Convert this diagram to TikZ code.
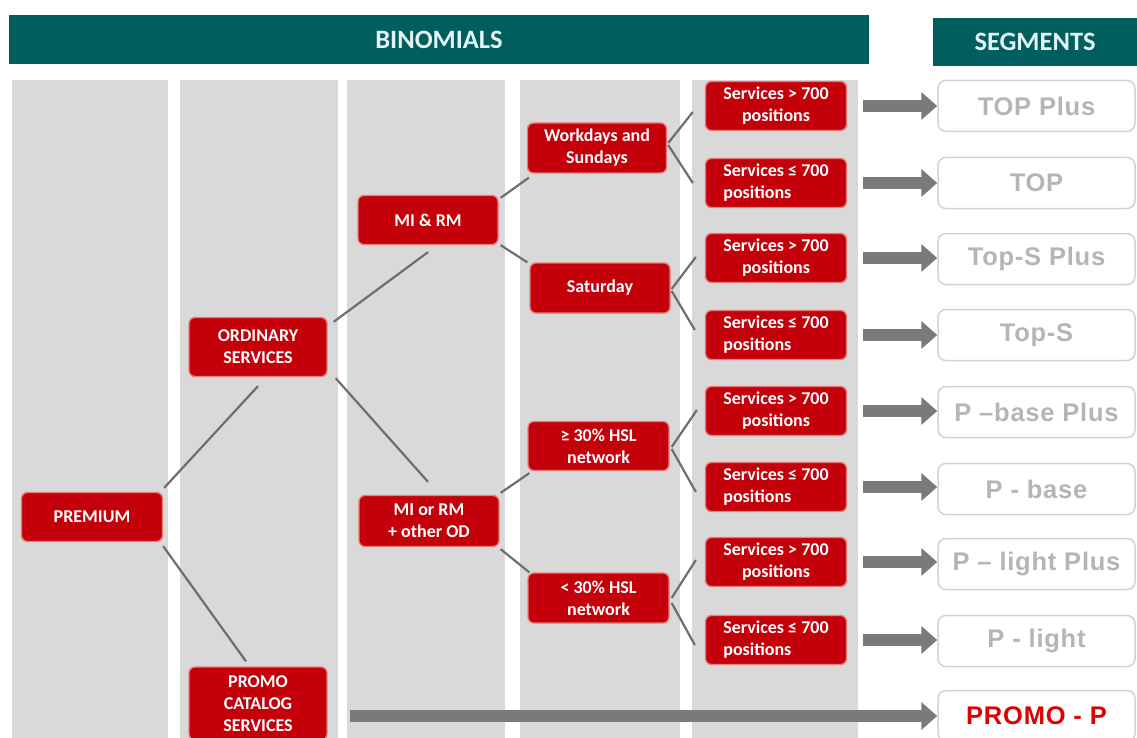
\documentclass[tikz,border=0pt]{standalone}
\usepackage{fontspec}
\setmainfont{Carlito}
\newfontfamily\segfont[LetterSpace=3]{Liberation Sans}
\usetikzlibrary{arrows.meta}

\definecolor{headteal}{HTML}{005E5E}
\definecolor{headtext}{HTML}{E4F4F4}
\definecolor{colgray}{HTML}{D9D9D9}
\definecolor{boxred}{HTML}{C4000A}
\definecolor{boxedge}{HTML}{E97A7A}
\definecolor{linkgray}{HTML}{6E6E6E}
\definecolor{arrowgray}{HTML}{7A7A7A}
\definecolor{segedge}{HTML}{D2D2D2}
\definecolor{segtext}{HTML}{B5B5B5}
\definecolor{promored}{HTML}{E00000}

\begin{document}
\begin{tikzpicture}[x=1pt,y=-1pt,
  redbox/.style={rectangle, rounded corners=6pt, fill=boxred, draw=boxedge,
    line width=1.3pt, text=white, font=\bfseries\fontsize{18}{22}\selectfont,
    align=center, minimum width=140pt, minimum height=49pt, inner sep=2pt},
  segbox/.style={rectangle, rounded corners=8pt, fill=white, draw=segedge,
    line width=1.5pt, text=segtext, font=\segfont\bfseries\fontsize{25.5}{28}\selectfont,
    minimum width=197pt, minimum height=51pt, inner sep=2pt},
  column/.style={fill=colgray},
  header/.style={rectangle, fill=headteal, text=headtext, inner sep=0pt,
    font=\bfseries\fontsize{26.5}{30}\selectfont},
  link/.style={draw=linkgray, line width=2.2pt},
  flow/.style={draw=arrowgray, line width=12pt, -{Triangle[length=16pt,width=27pt]}},
]
\useasboundingbox (0,0) rectangle (1137,738);
\clip (0,0) rectangle (1137,738);

% grey background columns
\fill[column] (12,80) rectangle (168,738);
\fill[column] (180,80) rectangle (338,738);
\fill[column] (347,80) rectangle (505,738);
\fill[column] (520,80) rectangle (680,738);
\fill[column] (692,80) rectangle (858,738);

% title bars
\node[header, minimum width=860pt, minimum height=49pt] (binom) at (439,39.5) {BINOMIALS};
\node[header, minimum width=204pt, minimum height=48pt] (segs) at (1035,42) {SEGMENTS};

% decision tree
\node[redbox, minimum width=141pt] (prem) at (92,517) {PREMIUM};
\node[redbox, minimum width=138pt, minimum height=59pt] (ord) at (258,347) {ORDINARY\\SERVICES};
\node[redbox, minimum width=138pt, minimum height=73pt] (promo) at (258,703.5) {PROMO\\CATALOG\\SERVICES};
\node[redbox] (mirm) at (428,220) {MI \& RM};
\node[redbox, minimum height=51pt] (mior) at (429,521) {MI or RM\\+ other OD};
\node[redbox, minimum width=139pt, minimum height=50pt] (work) at (597,148) {Workdays and\\Sundays};
\node[redbox, minimum height=50pt] (sat) at (600,288) {Saturday};
\node[redbox, minimum width=141pt] (hi) at (598.5,446) {≥ 30\% HSL\\network};
\node[redbox, minimum width=141pt, minimum height=50pt] (lo) at (598.5,598) {< 30\% HSL\\network};

% thresholds on positions
\node[redbox, minimum width=141pt] (s1) at (776,106) {Services > 700\\positions};
\node[redbox, minimum width=141pt, align=left] (s2) at (776,183) {Services ≤ 700\\positions};
\node[redbox, minimum width=141pt] (s3) at (776,258) {Services > 700\\positions};
\node[redbox, minimum width=141pt, align=left] (s4) at (776,335) {Services ≤ 700\\positions};
\node[redbox, minimum width=141pt] (s5) at (776,411) {Services > 700\\positions};
\node[redbox, minimum width=141pt, align=left] (s6) at (776,487) {Services ≤ 700\\positions};
\node[redbox, minimum width=141pt] (s7) at (776,562) {Services > 700\\positions};
\node[redbox, minimum width=141pt, align=left] (s8) at (776,640) {Services ≤ 700\\positions};

% resulting segments
\node[segbox] (g1) at (1036.5,106) {TOP Plus};
\node[segbox] (g2) at (1036.5,183) {TOP};
\node[segbox] (g3) at (1036.5,259) {Top-S Plus};
\node[segbox] (g4) at (1036.5,335) {Top-S};
\node[segbox] (g5) at (1036.5,412) {P –base Plus};
\node[segbox] (g6) at (1036.5,489) {P - base};
\node[segbox] (g7) at (1036.5,564) {P – light Plus};
\node[segbox] (g8) at (1036.5,641) {P - light};
\node[segbox, text=promored] (gP) at (1036.5,716) {PROMO - P};

% tree branches
\draw[link] ([shift={(1,-4)}]prem.north east) -- ([shift={(0,9)}]ord.south);
\draw[link] ([shift={(0,4)}]prem.south east) -- ([shift={(-12,-5)}]promo.north);
\draw[link] ([shift={(6,5)}]ord.north east) -- ([shift={(0,7)}]mirm.south);
\draw[link] ([shift={(8,1)}]ord.south east) -- ([shift={(-1,-13)}]mior.north);
\draw[link] ([shift={(2,3)}]mirm.north east) -- ([shift={(2,4)}]work.south west);
\draw[link] ([shift={(2,0)}]mirm.south east) -- ([shift={(-2,0)}]sat.north west);
\draw[link] ([shift={(1,-2)}]mior.north east) -- ([shift={(2,2)}]hi.south west);
\draw[link] ([shift={(1,2)}]mior.south east) -- ([shift={(2,0)}]lo.north west);
\draw[link] ([shift={(1,-5)}]work.east) -- ([shift={(-12,6)}]s1.west);
\draw[link] ([shift={(1,-3)}]work.east) -- ([shift={(-12,0)}]s2.west);
\draw[link] ([shift={(1,1)}]sat.east) -- ([shift={(-9,-1)}]s3.west);
\draw[link] ([shift={(1,3)}]sat.east) -- ([shift={(-10,-5)}]s4.west);
\draw[link] ([shift={(2,1)}]hi.east) -- ([shift={(-8,-1)}]s5.west);
\draw[link] ([shift={(2,3)}]hi.east) -- ([shift={(-9,5)}]s6.west);
\draw[link] ([shift={(2,0)}]lo.east) -- ([shift={(-9,-2)}]s7.west);
\draw[link] ([shift={(2,5)}]lo.east) -- ([shift={(-10,5)}]s8.west);

% arrows into the segments
\draw[flow] ([xshift=16pt]s1.east) -- (s1.east -| g1.west);
\draw[flow] ([xshift=16pt]s2.east) -- (s2.east -| g2.west);
\draw[flow] ([xshift=16pt]s3.east) -- (s3.east -| g3.west);
\draw[flow] ([xshift=16pt]s4.east) -- (s4.east -| g4.west);
\draw[flow] ([xshift=16pt]s5.east) -- (s5.east -| g5.west);
\draw[flow] ([xshift=16pt]s6.east) -- (s6.east -| g6.west);
\draw[flow] ([xshift=16pt]s7.east) -- (s7.east -| g7.west);
\draw[flow] ([xshift=16pt]s8.east) -- (s8.east -| g8.west);
\draw[flow] ([shift={(22,12.5)}]promo.east) -- (gP.west);
\end{tikzpicture}
\end{document}
